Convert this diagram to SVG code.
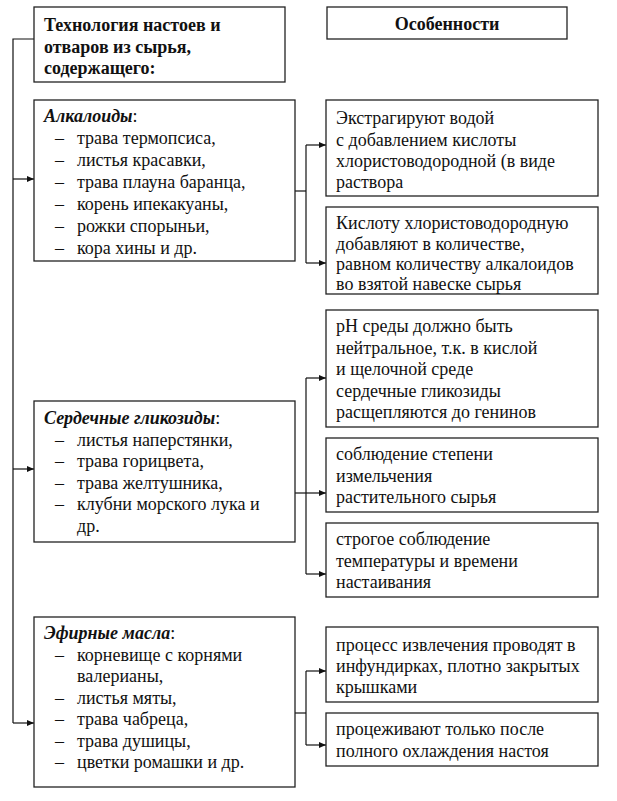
<svg xmlns="http://www.w3.org/2000/svg" width="617" height="801" viewBox="0 0 617 801">
<style>
.box{fill:#fff;stroke:#222;stroke-width:1.3}
.b{font-weight:bold}
.i{font-style:italic;font-weight:bold}
.c{fill:none;stroke:#111;stroke-width:1.2}
</style>
<defs>
<marker id="ah" markerUnits="userSpaceOnUse" markerWidth="8" markerHeight="8" refX="7" refY="4" orient="auto">
<path d="M0,1 L7,4 L0,7 Z" fill="#111"/>
</marker>
</defs>
<rect width="617" height="801" fill="#fff"/>
<g id="connectors">
<polyline class="c" points="34,39 13,39 13,723"/>
<line class="c" x1="13" y1="179" x2="34" y2="179" marker-end="url(#ah)"/>
<line class="c" x1="13" y1="469" x2="34" y2="469" marker-end="url(#ah)"/>
<line class="c" x1="13" y1="723" x2="34" y2="723" marker-end="url(#ah)"/>
<line class="c" x1="295" y1="191" x2="306" y2="191"/>
<line class="c" x1="306" y1="145" x2="306" y2="263"/>
<line class="c" x1="306" y1="145" x2="326" y2="145" marker-end="url(#ah)"/>
<line class="c" x1="306" y1="263" x2="326" y2="263" marker-end="url(#ah)"/>
<line class="c" x1="295" y1="493" x2="306" y2="493"/>
<line class="c" x1="306" y1="378" x2="306" y2="574"/>
<line class="c" x1="306" y1="378" x2="326" y2="378" marker-end="url(#ah)"/>
<line class="c" x1="306" y1="493" x2="326" y2="493" marker-end="url(#ah)"/>
<line class="c" x1="306" y1="574" x2="326" y2="574" marker-end="url(#ah)"/>
<line class="c" x1="295" y1="713" x2="306" y2="713"/>
<line class="c" x1="306" y1="671" x2="306" y2="745"/>
<line class="c" x1="306" y1="671" x2="326" y2="671" marker-end="url(#ah)"/>
<line class="c" x1="306" y1="745" x2="326" y2="745" marker-end="url(#ah)"/>
</g>
<g font-family="Liberation Serif, Times New Roman, serif" font-size="18" fill="#111">
<g id="header-left">
<rect class="box" x="34" y="7" width="251" height="75"/>
<text class="b" x="44" y="31">Технология настоев и</text>
<text class="b" x="44" y="52.5">отваров из сырья,</text>
<text class="b" x="44" y="74">содержащего:</text>
</g>
<g id="header-right">
<rect class="box" x="327" y="7" width="240" height="32"/>
<text class="b" x="447" y="30" text-anchor="middle">Особенности</text>
</g>
<g id="alkaloids">
<rect class="box" x="34" y="100" width="261" height="161"/>
<text x="44" y="122"><tspan class="i">Алкалоиды</tspan>:</text>
<text x="55" y="144">–</text><text x="77" y="144">трава термопсиса,</text>
<text x="55" y="166">–</text><text x="77" y="166">листья красавки,</text>
<text x="55" y="188">–</text><text x="77" y="188">трава плауна баранца,</text>
<text x="55" y="210">–</text><text x="77" y="210">корень ипекакуаны,</text>
<text x="55" y="232">–</text><text x="77" y="232">рожки спорыньи,</text>
<text x="55" y="254">–</text><text x="77" y="254">кора хины и др.</text>
</g>
<g id="glycosides">
<rect class="box" x="34" y="401" width="261" height="141"/>
<text x="44" y="424"><tspan class="i">Сердечные гликозиды</tspan>:</text>
<text x="55" y="445.5">–</text><text x="77" y="445.5">листья наперстянки,</text>
<text x="55" y="467">–</text><text x="77" y="467">трава горицвета,</text>
<text x="55" y="488.5">–</text><text x="77" y="488.5">трава желтушника,</text>
<text x="55" y="510">–</text><text x="77" y="510">клубни морского лука и</text>
<text x="77" y="531.5">др.</text>
</g>
<g id="oils">
<rect class="box" x="34" y="617" width="261" height="170"/>
<text x="44" y="639"><tspan class="i">Эфирные масла</tspan>:</text>
<text x="55" y="660.5">–</text><text x="77" y="660.5">корневище с корнями</text>
<text x="77" y="682">валерианы,</text>
<text x="55" y="703.5">–</text><text x="77" y="703.5">листья мяты,</text>
<text x="55" y="725">–</text><text x="77" y="725">трава чабреца,</text>
<text x="55" y="746.5">–</text><text x="77" y="746.5">трава душицы,</text>
<text x="55" y="768">–</text><text x="77" y="768">цветки ромашки и др.</text>
</g>
<g id="f1">
<rect class="box" x="326" y="100" width="272" height="96"/>
<text x="336" y="124">Экстрагируют водой</text>
<text x="336" y="145.5">с добавлением кислоты</text>
<text x="336" y="166.5">хлористоводородной (в виде</text>
<text x="336" y="187.5">раствора</text>
</g>
<g id="f2">
<rect class="box" x="326" y="207" width="272" height="87"/>
<text x="336" y="229">Кислоту хлористоводородную</text>
<text x="336" y="249.5">добавляют в количестве,</text>
<text x="336" y="270">равном количеству алкалоидов</text>
<text x="336" y="290">во взятой навеске сырья</text>
</g>
<g id="f3">
<rect class="box" x="326" y="310" width="272" height="117"/>
<text x="336" y="332">pH среды должно быть</text>
<text x="336" y="353.5">нейтральное, т.к. в кислой</text>
<text x="336" y="375">и щелочной среде</text>
<text x="336" y="396.5">сердечные гликозиды</text>
<text x="336" y="418">расщепляются до генинов</text>
</g>
<g id="f4">
<rect class="box" x="326" y="438" width="272" height="74"/>
<text x="336" y="460">соблюдение степени</text>
<text x="336" y="481.5">измельчения</text>
<text x="336" y="503">растительного сырья</text>
</g>
<g id="f5">
<rect class="box" x="326" y="523" width="272" height="74"/>
<text x="336" y="545">строгое соблюдение</text>
<text x="336" y="566.5">температуры и времени</text>
<text x="336" y="588">настаивания</text>
</g>
<g id="f6">
<rect class="box" x="326" y="627" width="272" height="75"/>
<text x="336" y="651">процесс извлечения проводят в</text>
<text x="336" y="672">инфундирках, плотно закрытых</text>
<text x="336" y="693">крышками</text>
</g>
<g id="f7">
<rect class="box" x="326" y="713" width="272" height="53"/>
<text x="336" y="735">процеживают только после</text>
<text x="336" y="757">полного охлаждения настоя</text>
</g>
</g>
</svg>
